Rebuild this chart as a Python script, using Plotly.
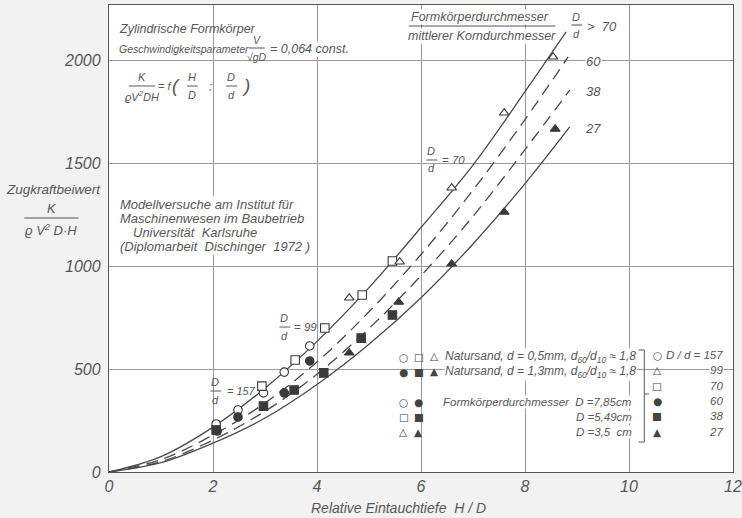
import plotly.graph_objects as go

# ---------------- data ----------------
# smooth curves (D/d >= 70 solid, 60 dashed, 38 dashed, 27 solid)
curve_top_x = [0, 1, 2, 3, 4, 5, 6, 7, 8, 8.79]
curve_top_y = [0, 75, 218, 407, 634, 895, 1187, 1490, 1846, 2136]
curve_60_x = [0, 1, 2, 3, 4, 5, 6, 7, 8, 8.83]
curve_60_y = [0, 60, 180, 335, 534, 778, 1056, 1368, 1711, 2015]
curve_38_x = [0, 1, 2, 3, 4, 5, 6, 7, 8, 8.86]
curve_38_y = [0, 50, 155, 295, 475, 697, 953, 1241, 1565, 1854]
curve_27_x = [0, 1, 2, 3, 4, 5, 6, 7, 8, 8.86]
curve_27_y = [0, 45, 140, 262, 425, 620, 846, 1107, 1400, 1675]

# measured points
open_circle_x = [2.06, 2.48, 2.97, 3.37, 3.86]
open_circle_y = [233, 301, 384, 485, 612]
open_square_x = [2.94, 3.58, 4.15, 4.87, 5.45]
open_square_y = [417, 544, 699, 859, 1024]
open_tri_x = [4.62, 5.59, 6.59, 7.60, 8.54]
open_tri_y = [845, 1020, 1379, 1743, 2015]
filled_circle_x = [2.08, 2.48, 3.37, 3.86]
filled_circle_y = [199, 267, 384, 539]
filled_square_x = [2.06, 2.97, 3.56, 4.13, 4.85, 5.45]
filled_square_y = [204, 320, 398, 481, 650, 762]
filled_tri_x = [4.62, 5.57, 6.59, 7.60, 8.58]
filled_tri_y = [578, 825, 1010, 1262, 1665]

x_ticks = [0, 2, 4, 6, 8, 10, 12]
y_ticks = [0, 500, 1000, 1500, 2000]

# ---------------- styling ----------------
W, H = 742, 518
ML, MR, MT, MB = 109, 0, 5, 46
PW, PH = W - ML - MR, H - MT - MB
FONT = "Liberation Sans, Arial, DejaVu Sans"
NARROW = "Liberation Sans Narrow, Arial Narrow, Liberation Sans, Arial"
SYMFONT = "DejaVu Sans"
TXT = "#575757"
INK = "#4a4a4a"
DARK = "#3a3a3a"


def px(x):
    return (x - ML) / PW


def py(y):
    return (H - MB - y) / PH


annotations = []
shapes = []


def text(t, x, y, size=12, anchor="center", bg=None, italic=True,
         color=TXT, family=FONT):
    d = dict(x=px(x), y=py(y), xref="paper", yref="paper", text=t,
             showarrow=False, xanchor=anchor, yanchor="middle",
             font=dict(family=family, size=size, color=color,
                       style="italic" if italic else "normal"),
             borderpad=0)
    if bg:
        d["bgcolor"] = bg
    annotations.append(d)


def bar(x0, x1, y, width=1):
    shapes.append(dict(type="line", xref="paper", yref="paper",
                       x0=px(x0), x1=px(x1), y0=py(y), y1=py(y),
                       line=dict(color=TXT, width=width)))


def vline(x, y0, y1):
    shapes.append(dict(type="line", xref="paper", yref="paper",
                       x0=px(x), x1=px(x), y0=py(y0), y1=py(y1),
                       line=dict(color=TXT, width=1)))


fig = go.Figure()

line_style = dict(color=INK, width=1.3, shape="spline", smoothing=1.0)
fig.add_trace(go.Scatter(x=curve_top_x, y=curve_top_y, mode="lines",
                         line=line_style, showlegend=False))
fig.add_trace(go.Scatter(x=curve_60_x, y=curve_60_y, mode="lines",
                         line=dict(line_style, dash="12px,7px"), showlegend=False))
fig.add_trace(go.Scatter(x=curve_38_x, y=curve_38_y, mode="lines",
                         line=dict(line_style, dash="12px,7px"), showlegend=False))
fig.add_trace(go.Scatter(x=curve_27_x, y=curve_27_y, mode="lines",
                         line=line_style, showlegend=False))


def pts(x, y, symbol, filled):
    fig.add_trace(go.Scatter(
        x=x, y=y, mode="markers", showlegend=False,
        marker=dict(symbol=symbol, size=8.5,
                    color=DARK if filled else "white",
                    line=dict(color=DARK, width=1.1))))


pts(open_circle_x, open_circle_y, "circle", False)
pts(open_square_x, open_square_y, "square", False)
pts(open_tri_x, open_tri_y, "triangle-up", False)
pts(filled_circle_x, filled_circle_y, "circle", True)
pts(filled_square_x, filled_square_y, "square", True)
pts(filled_tri_x, filled_tri_y, "triangle-up", True)

# ---------------- texts ----------------
# top-left block
text("Zylindrische Formkörper", 118, 29, 12.5, "left")
text("Geschwindigkeitsparameter", 118, 49, 10.5, "left")
text("V", 259, 40, 10.5)
bar(251, 267, 48)
text("√gD", 259, 57, 10.5)
text("= 0,064 const.", 271, 49, 12.5, "left", bg="white")
text("K", 142, 77, 11)
bar(129, 156, 86)
text("ϱV<sup>2</sup>DH", 142, 96, 11)
text("= f", 165, 86, 11)
text("(", 177, 86, 19)
text("H", 193, 77, 11)
bar(188, 199, 86)
text("D", 193, 95, 11)
text(";", 212, 86, 11)
text("D", 233, 77, 11)
bar(228, 239, 86)
text("d", 233, 95, 11)
text(")", 248, 86, 19)

# Modellversuche block
text("Modellversuche am Institut für", 119, 204, 13, "left", bg="white")
text("Maschinenwesen im Baubetrieb", 119, 218, 13, "left", bg="white")
text("Universität  Karlsruhe", 132, 232, 13, "left", bg="white")
text("(Diplomarbeit  Dischinger  1972 )", 119, 246, 13, "left", bg="white")

# y-axis title
text("Zugkraftbeiwert", 53, 189, 13.5)
text("K", 51, 209, 13)
bar(23, 78, 218)
text("ϱ V<sup>2</sup> D·H", 50, 230, 13)

# x-axis title
text("Relative Eintauchtiefe  H / D", 403, 508, 14)

# top-right block
text("Formkörperdurchmesser", 485, 17, 12.5, bg="white")
bar(413, 562, 26)
text("mittlerer Korndurchmesser", 487, 36, 12.5, bg="white")
text("D", 583, 17, 11)
bar(578, 589, 25)
text("d", 583, 34, 11)
text(">  70", 593, 26, 13, "left")
text("60", 600, 61, 13, bg="white")
text("38", 600, 92, 13)
text("27", 600, 128, 13)

# curve labels
text("D", 436, 151, 11)
bar(431, 442, 160)
text("d", 436, 168, 11)
text("= 70", 446, 160, 11.5, "left")
text("D", 287, 318, 11)
bar(282, 293, 327)
text("d", 287, 336, 11)
text("= 99", 296, 327, 11.5, "left")
text("D", 217, 382, 11)
bar(212, 223, 391)
text("d", 217, 400, 11)
text("= 157", 228, 391, 11, "left")

# legend block
SYM = 10.5
for (s, x, y) in [("○", 408, 357), ("□", 423, 357), ("△", 439, 356),
                  ("●", 408, 372), ("■", 423, 372), ("▲", 439, 371),
                  ("○", 408, 402), ("●", 423, 402),
                  ("□", 408, 417), ("■", 423, 417),
                  ("△", 408, 432), ("▲", 423, 432),
                  ("○", 665, 355), ("△", 665, 370), ("□", 665, 386),
                  ("●", 665, 401), ("■", 665, 416), ("▲", 665, 432)]:
    text(s, x, y, SYM, italic=False, color="#444", family=SYMFONT)
text("Natursand, d = 0,5mm, d<sub>60</sub>/d<sub>10</sub> ≈ 1,8", 449, 357, 12, "left", bg="white")
text("Natursand, d = 1,3mm, d<sub>60</sub>/d<sub>10</sub> ≈ 1,8", 449, 372, 12, "left", bg="white")
text("Formkörperdurchmesser  D =7,85cm", 641, 402, 11.5, "right", bg="white")
text("D =5,49cm", 641, 417, 11.5, "right", bg="white")
text("D =3,5  cm", 641, 432, 11.5, "right", bg="white")
text("D / d = 157", 733, 355, 11.5, "right", bg="white")
text("99", 733, 370, 11.5, "right", bg="white")
text("70", 733, 386, 11.5, "right", bg="white")
text("60", 733, 401, 11.5, "right", bg="white")
text("38", 733, 416, 11.5, "right", bg="white")
text("27", 733, 432, 11.5, "right", bg="white")
vline(652, 350, 442)
bar(646, 652, 350)
bar(646, 652, 442)
bar(652, 657, 394)

# ---------------- layout ----------------
axis_font = dict(family=NARROW, size=16, color=TXT, style="italic")
fig.update_layout(
    width=W, height=H,
    margin=dict(l=ML, r=MR, t=MT, b=MB),
    paper_bgcolor="#f2f2f2",
    plot_bgcolor="white",
    showlegend=False,
    annotations=annotations,
    shapes=shapes,
    xaxis=dict(range=[0, 12], tickvals=x_ticks,
               ticktext=[str(v) for v in x_ticks],
               showgrid=True, gridcolor="#9a9a9a", gridwidth=0.8,
               zeroline=False, showline=True, linecolor="#555",
               linewidth=1.3, mirror=True, ticks="",
               tickfont=axis_font, ticklabeloverflow="allow"),
    yaxis=dict(range=[0, PH / 0.206], tickvals=y_ticks,
               ticktext=[str(v) for v in y_ticks],
               showgrid=True, gridcolor="#9a9a9a", gridwidth=0.8,
               zeroline=False, showline=True, linecolor="#555",
               linewidth=1.3, mirror=True, ticks="",
               tickfont=axis_font, ticklabelstandoff=4),
)

fig.write_html("out.html",
               config={"displayModeBar": False},
               post_script="document.body.style.margin='0';"
                           "document.body.style.overflow='hidden';")
